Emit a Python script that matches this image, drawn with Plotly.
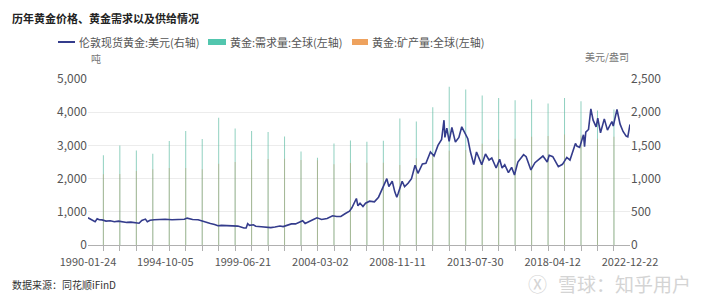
import plotly.graph_objects as go

# ---------------- data ----------------
years = list(range(1990, 2022))
demand = [2700, 3000, 2850, 2750, 3130, 3430, 3190, 3830, 3510, 3430,
          3400, 3270, 2820, 2630, 3060, 3150, 3110, 3140, 3810, 3720,
          4150, 4770, 4680, 4500, 4430, 4360, 4380, 4260, 4430, 4330,
          4050, 4080]
mine = [2130, 2140, 2230, 2280, 2320, 2320, 2280, 2450, 2500, 2570,
        2590, 2600, 2560, 2550, 2430, 2470, 2480, 2480, 2410, 2610,
        2740, 2840, 2860, 3050, 3170, 3200, 3260, 3280, 3330, 3300,
        3200, 3260]

price_dates = [
    "1990-01-24", "1990-03-01", "1990-05-01", "1990-07-01", "1990-08-15", "1990-10-01", "1990-12-01",
    "1991-03-01", "1991-06-01", "1991-09-01", "1991-12-01",
    "1992-03-01", "1992-06-01", "1992-09-01", "1992-12-01",
    "1993-03-01", "1993-05-01", "1993-07-20", "1993-09-01", "1993-11-01",
    "1994-02-01", "1994-06-01", "1994-10-01",
    "1995-03-01", "1995-07-01", "1995-12-01",
    "1996-02-01", "1996-06-01", "1996-10-01",
    "1997-01-15", "1997-04-01", "1997-07-01", "1997-10-01", "1997-12-15",
    "1998-03-01", "1998-06-01", "1998-09-01", "1998-12-01",
    "1999-03-01", "1999-07-15", "1999-09-01", "1999-10-05", "1999-11-15",
    "2000-02-10", "2000-04-01", "2000-08-01", "2000-11-01",
    "2001-03-01", "2001-06-01", "2001-09-20", "2001-12-01",
    "2002-03-01", "2002-06-01", "2002-09-01", "2002-12-01",
    "2003-02-05", "2003-04-01", "2003-07-01", "2003-10-01", "2003-12-20",
    "2004-04-01", "2004-08-01", "2004-12-01",
    "2005-03-01", "2005-06-01", "2005-09-01", "2005-12-10",
    "2006-02-01", "2006-05-12", "2006-06-15", "2006-08-01", "2006-10-05", "2006-12-01",
    "2007-03-01", "2007-06-15", "2007-09-15", "2007-11-08",
    "2008-01-15", "2008-03-17", "2008-05-01", "2008-07-15", "2008-09-10", "2008-10-24", "2008-11-25",
    "2009-02-20", "2009-04-15", "2009-07-01", "2009-09-15", "2009-12-03",
    "2010-02-05", "2010-05-15", "2010-08-01", "2010-11-09",
    "2011-01-28", "2011-04-25", "2011-07-15", "2011-09-06", "2011-09-26", "2011-11-08", "2011-12-29",
    "2012-02-28", "2012-05-16", "2012-08-01", "2012-10-04", "2012-12-15",
    "2013-02-15", "2013-04-15", "2013-06-28", "2013-08-27", "2013-10-15", "2013-12-20",
    "2014-03-14", "2014-06-01", "2014-08-01", "2014-11-05",
    "2015-01-22", "2015-03-17", "2015-05-15", "2015-08-05", "2015-10-15", "2015-12-17",
    "2016-03-01", "2016-07-06", "2016-09-01", "2016-12-15",
    "2017-03-15", "2017-06-06", "2017-09-08", "2017-12-12",
    "2018-01-25", "2018-04-15", "2018-08-16", "2018-11-15",
    "2019-02-20", "2019-05-01", "2019-08-30", "2019-10-01", "2019-12-01",
    "2020-02-24", "2020-03-19", "2020-04-15", "2020-06-15", "2020-08-06", "2020-09-25", "2020-11-30",
    "2021-01-06", "2021-03-08", "2021-05-31", "2021-08-09", "2021-11-16", "2021-12-15",
    "2022-03-08", "2022-05-16", "2022-07-21", "2022-09-28", "2022-11-03", "2022-12-22",
]
price = [
    410, 395, 368, 352, 395, 380, 378,
    360, 366, 350, 360,
    345, 340, 345, 334,
    328, 370, 390, 350, 372,
    380, 385, 388,
    380, 386, 387,
    405, 385, 380,
    355, 345, 325, 310, 290,
    295, 292, 290, 288,
    285, 255, 255, 320, 295,
    305, 282, 275, 265,
    262, 270, 285, 277,
    295, 318, 318, 340,
    365, 325, 350, 385, 410,
    385, 400, 440,
    430, 430, 470, 510,
    560, 700, 590, 630, 580, 630,
    660, 650, 720, 810,
    900, 1000, 880, 960, 800, 720, 780,
    960, 880, 930, 1000, 1200,
    1080, 1220, 1230, 1400,
    1340, 1500, 1590, 1880, 1620, 1760, 1560,
    1770, 1550, 1620, 1780, 1690,
    1600, 1400, 1210, 1400, 1310, 1210,
    1370, 1280, 1310, 1160,
    1290, 1160, 1210, 1090, 1170, 1055,
    1250, 1360, 1330, 1130,
    1240, 1290, 1340, 1250,
    1350, 1330, 1180, 1215,
    1320, 1280, 1530, 1490, 1470,
    1660, 1480, 1700, 1740, 2050, 1880, 1780,
    1910, 1690, 1900, 1730, 1860, 1790,
    2040, 1820, 1710, 1640, 1630, 1815,
]

tick_labels = ["1990-01-24", "1994-10-05", "1999-06-21", "2004-03-02",
               "2008-11-11", "2013-07-30", "2018-04-12", "2022-12-22"]

name_price = "伦敦现货黄金:美元(右轴)"
name_demand = "黄金:需求量:全球(左轴)"
name_mine = "黄金:矿产量:全球(左轴)"

c_line = "#343c8c"
c_demand = "#52c6ae"
c_mine = "#eea25e"

FONT = "Noto Sans CJK SC"
DAY = 86400000

bar_x = [f"{y}-12-31" for y in years]

fig = go.Figure()
fig.add_trace(go.Bar(x=bar_x, y=demand, name=name_demand,
                     marker_color="rgba(90,185,160,0.68)",
                     marker_line_width=0, width=22 * DAY,
                     showlegend=False, yaxis="y"))
fig.add_trace(go.Bar(x=bar_x, y=mine, name=name_mine,
                     marker_color="rgba(190,150,95,0.45)",
                     marker_line_width=0, width=22 * DAY,
                     showlegend=False, yaxis="y"))
fig.add_trace(go.Scatter(x=price_dates, y=price, name=name_price, mode="lines",
                         line=dict(color=c_line, width=1.6), yaxis="y2",
                         showlegend=False))

L, R, T, B = 88, 90, 79, 60
W, H = 720, 305
PH = H - T - B
PW = W - L - R

def px_x(px):
    return (px - L) / PW

def px_y(py):
    return (H - B - py) / PH

LEG_Y = 42
shapes = [
    dict(type="line", xref="paper", yref="paper", x0=px_x(58), x1=px_x(75),
         y0=px_y(LEG_Y), y1=px_y(LEG_Y), line=dict(color=c_line, width=2)),
    dict(type="rect", xref="paper", yref="paper", x0=px_x(208), x1=px_x(226),
         y0=px_y(LEG_Y + 3), y1=px_y(LEG_Y - 3), line=dict(width=0), fillcolor=c_demand),
    dict(type="rect", xref="paper", yref="paper", x0=px_x(352), x1=px_x(368),
         y0=px_y(LEG_Y + 3), y1=px_y(LEG_Y - 3), line=dict(width=0), fillcolor=c_mine),
]

def ann(text, x, y, size, color, anchor="left"):
    return dict(text=text, xref="paper", yref="paper", x=px_x(x), y=px_y(y),
                xanchor=anchor, yanchor="middle", showarrow=False,
                font=dict(size=size, color=color, family=FONT))

annotations = [
    ann("<b>历年黄金价格、黄金需求以及供给情况</b>", 10, 18, 11, "#222222"),
    ann(name_price, 77, LEG_Y, 11, "#555555"),
    ann(name_demand, 228, LEG_Y, 11, "#555555"),
    ann(name_mine, 370, LEG_Y, 11, "#555555"),
    ann("吨", 89, 58, 10, "#777777"),
    ann("美元/盎司", 583, 57, 10, "#777777"),
    ann("数据来源：同花顺iFinD", 10, 284, 10, "#333333"),
    ann("Ⓧ", 526, 283, 19, "#d4d4d4"),
    ann("雪球：知乎用户", 556, 283, 19, "#d4d4d4"),
]

fig.update_layout(
    width=W, height=H,
    margin=dict(l=L, r=R, t=T, b=B),
    paper_bgcolor="white", plot_bgcolor="white",
    barmode="overlay",
    font=dict(family=FONT, size=11, color="#555555"),
    showlegend=False,
    xaxis=dict(type="date", range=["1990-01-24", "2022-12-22"],
               tickvals=tick_labels, ticktext=tick_labels,
               ticks="", showgrid=False, showline=True, linecolor="#b0b0b0",
               linewidth=1, tickfont=dict(size=11, color="#555555"),
               ticklabelstandoff=7,
               minor=dict(ticks="outside", ticklen=5, tickcolor="#b0b0b0",
                          dtick="M12", tick0="1991-01-01", showgrid=False),
               zeroline=False),
    yaxis=dict(range=[0, 5000], tickvals=[0, 1000, 2000, 3000, 4000, 5000],
               tickformat=",", showgrid=True, gridcolor="#ececec", gridwidth=1,
               zeroline=False, showline=False, ticks="",
               tickfont=dict(size=12, color="#555555")),
    yaxis2=dict(range=[0, 2500], overlaying="y", side="right",
                tickvals=[0, 500, 1000, 1500, 2000, 2500], tickformat=",",
                showgrid=False, zeroline=False, showline=False, ticks="",
                tickfont=dict(size=12, color="#555555")),
    shapes=shapes,
    annotations=annotations,
)

fig.write_html("out.html")
